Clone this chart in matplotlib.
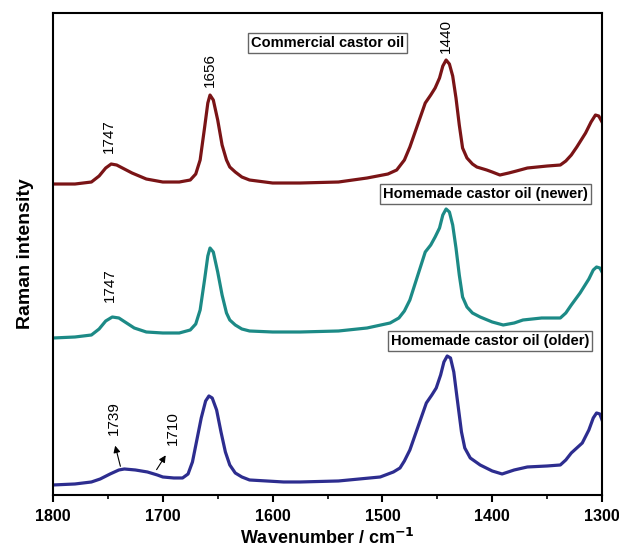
import numpy as np
import matplotlib.pyplot as plt
from matplotlib.ticker import MultipleLocator

plt.rcParams['font.family'] = ['Liberation Sans', 'DejaVu Sans']

# spectra (wavenumber, pixel row in the reference)
wn_com = [1800, 1780, 1765, 1758, 1752, 1747, 1742, 1735, 1728, 1715, 1700, 1685, 1675, 1670,
          1666, 1662, 1659, 1657, 1654, 1650, 1646, 1642, 1639, 1634, 1628, 1621, 1600, 1575,
          1540, 1514, 1495, 1487, 1480, 1475, 1468, 1461, 1456, 1452, 1448, 1445, 1442, 1439,
          1436, 1433, 1430, 1427, 1423, 1418, 1414, 1405, 1400, 1393, 1385, 1378, 1368,
          1350, 1338, 1333, 1328, 1323, 1315, 1310, 1306, 1303, 1300]
row_com = [184, 184, 182, 176, 168, 164, 165, 169, 173, 179, 182, 182, 180, 174,
           160, 128, 103, 95, 100, 120, 145, 160, 167, 172, 177, 180, 183, 183,
           182, 178, 174, 170, 160, 147, 125, 103, 95, 88, 78, 66, 60, 64,
           76, 98, 125, 148, 158, 164, 167, 170, 172, 175, 173, 171, 168,
           166, 165, 161, 155, 147, 133, 122, 115, 116, 122]

wn_new = [1800, 1780, 1765, 1758, 1752, 1746, 1740, 1733, 1726, 1715, 1700, 1685, 1675, 1670,
          1666, 1662, 1659, 1657, 1654, 1650, 1646, 1642, 1639, 1634, 1628, 1621, 1600, 1575,
          1540, 1514, 1493, 1485, 1480, 1475, 1468, 1461, 1456, 1452, 1448, 1445, 1442, 1439,
          1436, 1433, 1430, 1427, 1423, 1418, 1411, 1400, 1390, 1380, 1372, 1355,
          1338, 1333, 1328, 1320, 1312, 1308, 1305, 1302, 1300]
row_new = [338, 337, 335, 329, 321, 317, 318, 323, 328, 332, 333, 333, 330, 324,
           310, 280, 256, 248, 252, 272, 295, 313, 320, 325, 329, 331, 332, 332,
           331, 328, 323, 318, 311, 300, 276, 252, 245, 237, 228, 215, 209, 212,
           225, 248, 275, 297, 307, 313, 317, 322, 325, 323, 320, 318,
           318, 313, 305, 293, 279, 270, 267, 268, 272]

wn_old = [1800, 1780, 1765, 1757, 1748, 1740, 1735, 1725, 1714, 1705, 1700, 1690, 1682, 1677,
          1673, 1669, 1665, 1661, 1658, 1655, 1651, 1647, 1643, 1639, 1634, 1628, 1621, 1590,
          1575, 1540, 1502, 1490, 1484, 1480, 1475, 1468, 1460, 1455, 1451, 1447, 1444, 1441,
          1438, 1435, 1432, 1428, 1425, 1420, 1411, 1400, 1391, 1380, 1368,
          1350, 1338, 1333, 1328, 1318, 1312, 1308, 1305, 1302, 1300]
row_old = [485, 484, 482, 479, 474, 470, 469, 470, 472, 475, 477, 478, 478, 474,
           462, 440, 418, 401, 396, 398, 410, 432, 452, 465, 473, 477, 480, 482,
           482, 481, 477, 472, 468, 461, 450, 428, 403, 395, 388, 375, 362, 356,
           358, 372, 398, 432, 448, 458, 465, 471, 474, 470, 467,
           466, 465, 460, 453, 443, 430, 418, 413, 414, 420]

def height(rows):
    return 495 - np.array(rows)

fig = plt.figure(figsize=(6.19, 5.52), dpi=100)
ax = fig.add_axes([0.0856, 0.1033, 0.887, 0.8731])

ax.plot(wn_com, height(row_com), color='#7A1416', lw=2.3, solid_joinstyle='round')
ax.plot(wn_new, height(row_new), color='#1C8A86', lw=2.3, solid_joinstyle='round')
ax.plot(wn_old, height(row_old), color='#2D2D8F', lw=2.3, solid_joinstyle='round')

ax.set_xlim(1800, 1300)
ax.set_ylim(0, 482)
ax.set_yticks([])
ax.xaxis.set_major_locator(MultipleLocator(100))
ax.xaxis.set_minor_locator(MultipleLocator(50))
ax.tick_params(axis='x', which='major', length=5, width=1.5, direction='out', pad=5)
ax.tick_params(axis='x', which='minor', length=3, width=1.2, direction='out')
for lab in ax.get_xticklabels():
    lab.set_fontweight('bold')
    lab.set_fontsize(11.5)
for s in ax.spines.values():
    s.set_linewidth(1.5)

ax.set_xlabel('Wavenumber / cm$^{\\mathbf{-1}}$', fontsize=13, fontweight='bold', labelpad=3)
ax.set_ylabel('Raman intensity', fontsize=14, fontweight='bold', labelpad=14)

# peak labels
pk = dict(rotation=90, ha='center', va='bottom', fontsize=11)
ax.text(1657, 408, '1656', **pk)
ax.text(1749, 342, '1747', **pk)
ax.text(1442, 442, '1440', **pk)
ax.text(1748, 193, '1747', **pk)
ax.text(1745, 60, '1739', **pk)
ax.text(1691, 50, '1710', **pk)

arr = dict(arrowstyle='-|>', color='black', lw=0.8, mutation_scale=10)
ax.annotate('', xy=(1744, 52), xytext=(1738, 26), arrowprops=arr)
ax.annotate('', xy=(1696, 42), xytext=(1707, 23), arrowprops=arr)

# sample boxes
bx = dict(boxstyle='square,pad=0.2', fc='white', ec='#666666', lw=1)
ax.text(1550, 452, 'Commercial castor oil', ha='center', va='center',
        fontsize=10.5, fontweight='bold', bbox=bx)
ax.text(1406, 301, 'Homemade castor oil (newer)', ha='center', va='center',
        fontsize=10.5, fontweight='bold', bbox=bx)
ax.text(1402, 154, 'Homemade castor oil (older)', ha='center', va='center',
        fontsize=10.5, fontweight='bold', bbox=bx)

fig.savefig('out.png', dpi=100)
